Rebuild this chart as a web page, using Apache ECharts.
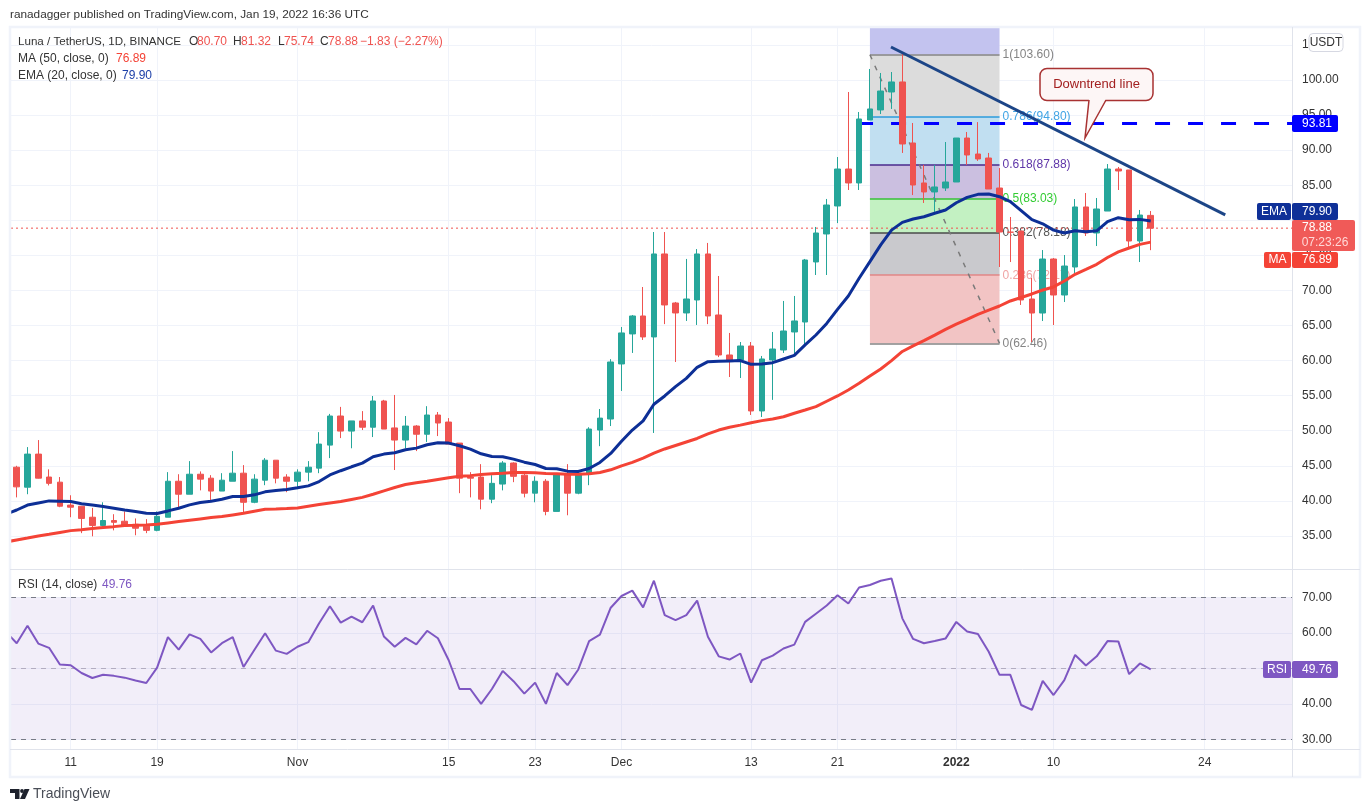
<!DOCTYPE html>
<html>
<head>
<meta charset="utf-8">
<style>html,body{margin:0;padding:0;background:#fff}#c{width:1370px;height:812px}</style>
<script src="https://cdn.jsdelivr.net/npm/echarts@6/dist/echarts.min.js"></script>
</head>
<body>
<div id="c"></div>
<script>
// Daily candles, Oct 6 2021 (slot 0) to Jan 19 2022 (slot 105)
const opens = [44.8,41.95,46.67,43.4,42.67,39.4,39.24,37.67,36.5,37.2,37.1,36.67,36.4,35.8,37.67,42.8,40.95,43.8,43.24,41.4,42.8,43.95,39.8,42.95,45.8,43.4,42.8,44.1,44.67,47.95,52.1,49.95,51.4,50.5,54.24,50.4,48.67,50.67,49.5,52.24,51.24,48.24,43.4,43.4,40.24,42.4,45.4,43.67,41.1,42.8,38.5,43.8,41.1,43.76,50.1,51.67,59.52,63.8,66.36,63.37,75.2,68.21,66.79,68.64,75.2,66.5,60.8,60.09,62.08,52.82,60.09,61.51,64.08,65.5,74.06,78.05,82.04,87.31,85.32,94.3,95.73,98.29,99.72,91.02,85.32,84.04,84.6,85.46,91.73,89.45,88.88,84.6,78.3,78.47,68.78,66.78,74.48,69.35,73.34,81.9,78.19,81.32,87.31,87.17,77.05,80.7];
const closes = [42,46.67,43.24,42.5,39.24,39.1,37.5,36.5,37.2,36.95,36.4,36.1,35.8,37.8,42.8,40.95,43.8,43.1,41.4,42.95,43.95,39.8,43.1,45.8,43.24,42.8,44.1,44.8,48.1,52.1,49.95,51.4,50.5,54.24,50.24,48.67,50.67,49.5,52.24,51.1,48.1,43.24,43.24,40.24,42.5,45.4,43.5,41.1,42.8,38.5,43.8,41.1,43.95,50.24,51.8,59.8,63.94,66.36,63.37,75.2,67.93,66.79,68.78,75.2,66.36,60.8,60.09,62.08,52.82,60.23,61.65,64.22,65.65,74.34,78.19,82.18,87.31,85.32,94.44,95.87,98.43,99.72,90.88,85.03,84.04,84.75,85.46,91.73,89.31,88.74,84.46,78.33,78.3,68.64,66.78,74.48,69.35,73.48,81.9,78.19,81.61,87.31,87.03,77.05,80.75,78.88];
const lows = [40.5,40.95,43.2,42.2,39.1,37.67,35.4,34.95,36.2,35.8,36.4,35.1,35.4,35.67,37.67,39.1,40.95,41.5,40.1,41.4,42.8,38.4,39.67,42.24,42.5,41.24,41.67,42.8,43.95,46.1,48.95,47.5,50.1,49.1,50.24,44.4,47.5,47.1,48.4,49.24,48.1,41.1,40.5,38.8,39.67,41.5,42.67,40.5,39.8,37.95,38.5,37.95,40.95,42.24,47.8,50.67,55.67,61.09,62.94,49.68,65.2,59.8,65.65,65.08,65.2,60.5,57.66,57.52,52.25,51.96,54.4,61.09,60.8,62.23,72.2,72.2,79.6,84.32,84.32,94.3,95.15,95.87,89.6,83.6,82.47,81.2,84.18,85.46,87.9,88.46,84.46,73.34,74.05,67.93,62.65,65.64,65.07,68.35,72.49,77.76,76.33,81.32,84.32,76.19,74.05,75.74];
const highs = [45,47.67,48.67,44.5,43.4,40.8,39.24,39,39.8,38.1,38.5,37.5,37.4,38.5,44.1,43.8,45.67,44.2,43.67,43.95,47.1,45.1,43.8,46.1,45.8,43.8,44.5,45.67,49.8,52.4,53.4,51.4,52.8,54.95,54.4,55.1,52.1,50.8,53.5,52.67,51.8,48.24,44.1,45.24,43.67,45.67,45.5,43.95,43.5,43.1,43.95,45.24,44.4,50.5,53.1,60.2,64.79,66.5,70.49,78.33,78.33,68.36,74.49,75.9,76.77,72.06,63.94,62.65,62.65,60.66,64.08,68.5,69.21,74.49,79.05,83.04,89.02,98.29,95.44,101.57,101,101.14,103.71,93.87,87.9,87.9,91.16,91.73,92.59,94,89.6,87.45,80.47,78.47,71.77,75.76,74.62,75.05,83.03,83.89,83.18,88.02,87.6,87.17,81.47,81.32];

// Moving averages and RSI: the first value sits one slot before the first candle
const ma50 = [34.15,34.43,34.7,35,35.24,35.5,35.76,35.9,36.05,36.2,36.33,36.48,36.52,36.57,36.67,36.86,37.05,37.24,37.43,37.62,37.76,38,38.24,38.52,38.8,38.83,38.9,39,39.24,39.48,39.7,39.9,40.2,40.5,40.95,41.43,41.9,42.33,42.6,42.8,43.05,43.3,43.5,43.6,43.76,43.86,43.95,44.05,44.05,44,43.9,43.86,43.8,43.8,43.86,44.05,44.43,45,45.5,46.1,46.8,47.4,47.9,48.4,48.9,49.54,50.1,50.5,50.8,51.15,51.44,51.68,52,52.5,52.96,53.43,54.2,54.96,55.8,56.76,57.8,58.8,60,61.3,62.1,62.84,63.64,64.45,65.2,65.88,66.6,67.2,67.78,68.5,69,69.5,70.06,70.5,71.34,72.3,73,73.72,74.7,75.5,76.05,76.57,76.89];
const ema20 = [38.1,38.7,39.4,39.7,40,39.95,39.9,39.6,39.4,39.2,38.95,38.7,38.48,38.24,38.2,38.57,38.95,39.43,39.76,39.95,40.24,40.62,40.62,40.86,41.29,41.48,41.62,41.86,42.14,42.76,43.7,44.3,44.86,45.38,46.29,46.67,46.86,47.29,47.52,48,48.29,48.24,47.86,47.38,46.71,46.33,46.29,45.95,45.52,45.19,44.62,44.57,44.24,44.2,44.62,45.48,46.76,48.5,50.1,51.4,53.77,54.96,56.29,57.47,59.04,59.85,59.9,59.95,60,59.47,59.52,59.7,60.23,60.75,62.23,63.65,65.3,67.3,69.2,71.73,74.1,76.5,78.6,79.7,80.18,80.5,81,81.46,82.5,83.27,83.7,83.74,83.36,82.65,81.37,80.09,79.5,78.6,78.18,78.5,78.37,78.5,79.8,80.37,80.09,80.13,79.9];
const rsi14 = [60.3,57.1,62,57,55.8,51.1,50.9,48.7,47.3,48.2,47.9,47.4,46.6,45.9,50.2,58.8,55.3,59.6,58.3,54.5,57.1,58.8,50.4,55.2,59.9,55,54.1,56.1,57.4,62.7,67.5,62.9,64.6,63,67.7,59,56.1,58.6,56.8,60.6,58.5,52.3,44.2,44.2,40,44.2,49.3,46.4,42.9,46,40,48.7,45.3,49.7,57.7,59.5,67.1,70.4,71.9,67.2,74.7,65,63.6,65,69.1,58.9,53.4,52.5,54.2,46,52.3,53.6,55.6,56.7,63.1,65.4,67.7,70.6,68.3,72.8,73.5,74.7,75.3,64.1,58.3,57.1,57.7,58.4,63.1,60.4,59.7,54.7,48.2,48.2,39.7,38.3,46.5,42.5,46.7,53.8,50.8,53.4,57.7,57.6,48.4,51.4,49.76];

// Time axis ticks
const tickSlots = [5,13,26,40,48,56,68,76,87,96,110];
const tickLabels = ['11','19','Nov','15','23','Dec','13','21','2022','10','24'];
const priceTicks = [35,40,45,50,55,60,65,70,75,80,85,90,95,100,105];
const rsiTicks = [30,40,50,60,70];

// Fibonacci retracement drawing
const fibStart = 79, fibEnd = 91;
const fibLevels = [103.60,94.80,87.88,83.03,78.18,72.17,62.46];
const fibNames = ['1','0.786','0.618','0.5','0.382','0.236','0'];
const fibLineColors = ['#858585','#2d9ad8','#4a2a8c','#38c038','#4a4a4a','#e08585','#858585'];
const fibTextColors = ['#858585','#42a5e5','#5e35a8','#33cc33','#555555','#f0a5a5','#858585'];
const fibBandColors = ['#dcdcdc','#c1dff1','#cbbfe0','#c3f1c2','#c9c9cd','#f2c4c4'];

// Other drawings
const trendSlots = [80.95,111.9], trendPrices = [104.7,80.76];
const hlinePrice = 93.81, hlineStartSlot = 77.9;
const lastClose = 78.88;

const xMin = -0.528, xMax = 118.08;
const priceMin = 30.29, priceMax = 107.555;
const rsiMin = 27.3, rsiMax = 77.72;

const UI = '"Liberation Sans", Arial, sans-serif';
const RED = '#ef5350', GREEN = '#26a69a', GRID = '#f0f3fa', TXT = '#333333';

const candleData = opens.map((o,i)=>[i,o,closes[i],lows[i],highs[i]]);
const lineData = a => a.map((v,i)=>[i-1,v]);

const fibBands = fibBandColors.map((c,i)=>[
  {coord:[fibStart,fibLevels[i]],itemStyle:{color:c,opacity:1}},
  {coord:[fibEnd,fibLevels[i+1]]}
]);
fibBands.unshift([
  {coord:[fibStart,priceMax],itemStyle:{color:'#c3c3ef',opacity:1}},
  {coord:[fibEnd,fibLevels[0]]}
]);
const fibLines = fibLevels.map((v,i)=>[
  {coord:[fibStart,v],lineStyle:{color:fibLineColors[i],width:1.5,type:'solid'},
   label:{show:true,position:'end',distance:3,color:fibTextColors[i],fontFamily:UI,fontSize:12,
          formatter:fibNames[i]+'('+v.toFixed(2)+')'}},
  {coord:[fibEnd,v]}
]);

function txt(x,y,s,fill,opt){
  return Object.assign({type:'text',z:100,silent:true,x:x,y:y,
    style:Object.assign({text:s,fill:fill||TXT,font:'12px '+UI,textVerticalAlign:'middle',textBaseline:'middle'},opt||{})});
}
function box(x,y,w,h,fill,r){
  return {type:'rect',z:99,silent:true,shape:{x:x,y:y,width:w,height:h,r:r||0},style:{fill:fill}};
}
function hl(x1,y1,x2,y2,c,w){
  return {type:'line',z:98,silent:true,shape:{x1:x1,y1:y1,x2:x2,y2:y2},style:{stroke:c,lineWidth:w||1}};
}
function tag(y,h,color,name,nameX,value){
  const out=[box(1292,y,46,h,color,2)];
  if(name){
    out.push(box(nameX,y,1291-nameX,h,color,2));
    out.push(txt(nameX+(1291-nameX)/2,y+h/2,name,'#fff',{textAlign:'center'}));
  }
  out.push(txt(1317,y+h/2,value,'#fff',{textAlign:'center'}));
  return out;
}
const NARROW = {font:'11.8px '+UI};

const graphics = [
  {type:'rect',z:97,silent:true,shape:{x:10,y:27,width:1350,height:750},style:{fill:'none',stroke:GRID,lineWidth:2.5}},
  hl(1292.5,27,1292.5,777,'#e0e3eb'),
  hl(10,569.5,1360,569.5,'#e0e3eb'),
  hl(10,749.5,1360,749.5,'#e0e3eb'),
  txt(10,15,'ranadagger published on TradingView.com, Jan 19, 2022 16:36 UTC',TXT,NARROW),
  txt(18,42,'Luna / TetherUS, 1D, BINANCE',TXT,{font:'11.6px '+UI}),
  txt(189,42,'O'),txt(197,42,'80.70',RED),
  txt(233,42,'H'),txt(241,42,'81.32',RED),
  txt(278,42,'L'),txt(284,42,'75.74',RED),
  txt(320,42,'C'),txt(328,42,'78.88',RED),
  txt(360,42,'\u22121.83 (\u22122.27%)',RED),
  txt(18,59,'MA (50, close, 0)'),txt(116,59,'76.89','#f44336'),
  txt(18,76,'EMA (20, close, 0)'),txt(122,76,'79.90','#1c3fa8'),
  txt(18,585,'RSI (14, close)'),txt(102,585,'49.76','#7e57c2'),
  // USDT button
  {type:'rect',z:99,silent:true,shape:{x:1309,y:33.5,width:34,height:18,r:4},style:{fill:'#fff',stroke:'#d6d8e2',lineWidth:1}},
  txt(1326,43,'USDT',TXT,{textAlign:'center'}),
  // Callout
  {type:'rect',z:99,silent:true,shape:{x:1040,y:68.5,width:113,height:32,r:7},style:{fill:'#fdf6f6',stroke:'#a83232',lineWidth:1.5}},
  {type:'polygon',z:99,silent:true,shape:{points:[[1089,99],[1106,99],[1085,138]]},style:{fill:'#fdf6f6'}},
  {type:'polyline',z:99,silent:true,shape:{points:[[1089,100],[1085,138],[1106,100]]},style:{fill:'none',stroke:'#a83232',lineWidth:1.5}},
  txt(1096.5,84.5,'Downtrend line','#a32020',{textAlign:'center',font:'13px '+UI}),
  // Price tags
  ...tag(115,17,'#0000ff',null,0,'93.81'),
  ...tag(203,17,'#0f3098','EMA',1257,'79.90'),
  box(1292,220,63,31,'#f05a58',2),
  txt(1317,228,'78.88','#fff',{textAlign:'center'}),
  txt(1325,243,'07:23:26','#ffd7d6',{textAlign:'center'}),
  ...tag(252,16,'#f44336','MA',1264,'76.89'),
  ...tag(661,17,'#7e57c2','RSI',1263,'49.76'),
  // Logo
  {type:'polygon',z:99,silent:true,shape:{points:[[10,789],[19.5,789],[19.5,799],[15,799],[15,793],[10,793]]},style:{fill:'#1e222d'}},
  {type:'circle',z:99,silent:true,shape:{cx:22,cy:791,r:1.9},style:{fill:'#1e222d'}},
  {type:'polygon',z:99,silent:true,shape:{points:[[24.5,789],[29.5,789],[25,799],[20,799]]},style:{fill:'#1e222d'}},
  txt(33,794,'TradingView','#4a4e57',{font:'14px '+UI})
];

const xBase = {
  type:'value',min:xMin,max:xMax,
  axisLine:{show:false},
  axisTick:{show:false,customValues:tickSlots},
  splitLine:{show:true,lineStyle:{color:GRID,width:1}}
};

const option = {
  animation:false,
  backgroundColor:'#ffffff',
  textStyle:{fontFamily:UI},
  graphic:{elements:graphics},
  grid:[
    {left:11,top:27,width:1281,height:542,show:false},
    {left:11,top:570,width:1281,height:179,show:false}
  ],
  xAxis:[
    Object.assign({},xBase,{gridIndex:0,axisLabel:{show:false}}),
    Object.assign({},xBase,{gridIndex:1,axisLabel:{
      show:true,customValues:tickSlots,margin:8,fontSize:12,fontFamily:UI,color:TXT,
      formatter:v=>{const s=tickLabels[tickSlots.indexOf(v)];return s==='2022'?'{b|'+s+'}':s;},
      rich:{b:{fontWeight:'bold',fontSize:12,fontFamily:UI,color:TXT}}
    }})
  ],
  yAxis:[
    {type:'value',gridIndex:0,position:'right',min:priceMin,max:priceMax,
     axisLine:{show:false},axisTick:{show:false,customValues:priceTicks},
     axisLabel:{customValues:priceTicks,formatter:v=>v.toFixed(2),margin:10,align:'left',fontSize:12,fontFamily:UI,color:TXT,showMinLabel:true,showMaxLabel:true},
     splitLine:{show:true,lineStyle:{color:GRID,width:1}}},
    {type:'value',gridIndex:1,position:'right',min:rsiMin,max:rsiMax,
     axisLine:{show:false},axisTick:{show:false,customValues:rsiTicks},
     axisLabel:{customValues:rsiTicks,formatter:v=>v.toFixed(2),margin:10,align:'left',fontSize:12,fontFamily:UI,color:TXT},
     splitLine:{show:true,lineStyle:{color:GRID,width:1}}}
  ],
  series:[
    {name:'Fib',type:'line',xAxisIndex:0,yAxisIndex:0,data:[],z:2,silent:true,
     markArea:{silent:true,z:1,data:fibBands},
     markLine:{silent:true,z:3,symbol:'none',precision:4,data:fibLines}},
    {name:'Fib trend',type:'line',xAxisIndex:0,yAxisIndex:0,z:4,silent:true,showSymbol:false,
     data:[[fibStart,fibLevels[0]],[fibEnd,fibLevels[6]]],
     lineStyle:{color:'#7a7a7a',width:1.5,type:[5,7]}},
    {name:'Resistance',type:'line',xAxisIndex:0,yAxisIndex:0,z:5,silent:true,showSymbol:false,
     data:[[hlineStartSlot,hlinePrice],[xMax,hlinePrice]],
     lineStyle:{color:'#0000ff',width:3,type:[15,18]}},
    {name:'Last price',type:'line',xAxisIndex:0,yAxisIndex:0,z:5,silent:true,showSymbol:false,
     data:[[xMin,lastClose],[xMax,lastClose]],
     lineStyle:{color:RED,width:1,type:[2,3]}},
    {name:'Luna / TetherUS',type:'candlestick',xAxisIndex:0,yAxisIndex:0,z:10,silent:true,
     barWidth:6,data:candleData,encode:{x:0,y:[1,2,3,4]},
     itemStyle:{color:GREEN,color0:RED,borderColor:GREEN,borderColor0:RED,borderColorDoji:RED,borderWidth:1}},
    {name:'MA',type:'line',xAxisIndex:0,yAxisIndex:0,z:11,silent:true,showSymbol:false,
     data:lineData(ma50),lineStyle:{color:'#f44336',width:3}},
    {name:'EMA',type:'line',xAxisIndex:0,yAxisIndex:0,z:12,silent:true,showSymbol:false,
     data:lineData(ema20),lineStyle:{color:'#0d2f96',width:3}},
    {name:'Downtrend',type:'line',xAxisIndex:0,yAxisIndex:0,z:13,silent:true,showSymbol:false,
     data:trendSlots.map((s,i)=>[s,trendPrices[i]]),lineStyle:{color:'#1c4587',width:3}},
    {name:'RSI',type:'line',xAxisIndex:1,yAxisIndex:1,z:6,silent:true,showSymbol:false,
     data:lineData(rsi14),lineStyle:{color:'#7e57c2',width:2},
     markArea:{silent:true,z:1,itemStyle:{color:'rgba(126,87,194,0.1)'},data:[[{coord:[xMin,70]},{coord:[xMax,30]}]]},
     markLine:{silent:true,z:2,symbol:'none',label:{show:false},precision:2,data:[
       {yAxis:70,lineStyle:{color:'#787b86',type:[5,5],width:1}},
       {yAxis:50,lineStyle:{color:'#b3adc0',type:[5,5],width:1}},
       {yAxis:30,lineStyle:{color:'#787b86',type:[5,5],width:1}}
     ]}}
  ]
};
echarts.init(document.getElementById('c'),null,{renderer:'canvas'}).setOption(option);
</script>
</body>
</html>
